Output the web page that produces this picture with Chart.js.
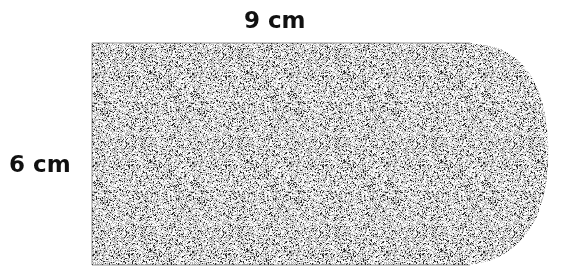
<!DOCTYPE html>
<html>
<head>
<meta charset="utf-8">
<script src="https://cdn.jsdelivr.net/npm/chart.js@4.4.1/dist/chart.umd.min.js"></script>
<style>
  html, body { margin: 0; padding: 0; background: #fff; }
  #wrap { width: 563px; height: 271px; position: relative; }
</style>
</head>
<body>
<div id="wrap"><canvas id="shapeChart"></canvas></div>
<script>
// figure outline, in cm (rectangle 9 x 6 with a rounded cap on the right)
const rectX = [9, 0, 0, 9];
const rectY = [0, 0, 6, 6];
const capX = [9, 9.71, 10.24, 10.62, 10.81, 10.86, 10.79, 10.57, 10.14, 9.57, 9];
const capY = [6, 5.84, 5.43, 4.73, 3.86, 3.0, 2.08, 1.27, 0.59, 0.16, 0];

// dimension labels
const labelText = ['9 cm', '6 cm'];
const labelX = [4.35, -1.24];
const labelY = [6.57, 2.68];

function stipple() {
  const c = document.createElement('canvas');
  c.width = 97; c.height = 89;
  const g = c.getContext('2d');
  const img = g.createImageData(c.width, c.height);
  for (let j = 0; j < c.height; j++) {
    for (let i = 0; i < c.width; i++) {
      let h = Math.sin(i * 12.9898 + j * 78.233) * 43758.5453;
      h = h - Math.floor(h);
      let v = 250;
      if (h < 0.12) v = 40;
      else if (h < 0.44) v = 175;
      else if (h < 0.59) v = 212;
      const k = (j * c.width + i) * 4;
      img.data[k] = img.data[k + 1] = img.data[k + 2] = v;
      img.data[k + 3] = 255;
    }
  }
  g.putImageData(img, 0, 0);
  return g.createPattern(c, 'repeat');
}

const textPlugin = {
  id: 'dimLabels',
  afterDatasetsDraw(chart) {
    const ctx = chart.ctx;
    const xs = chart.scales.x, ys = chart.scales.y;
    ctx.save();
    ctx.fillStyle = '#111';
    ctx.font = 'bold 23px "DejaVu Sans", Verdana, sans-serif';
    ctx.textAlign = 'center';
    ctx.textBaseline = 'middle';
    labelText.forEach((t, i) => {
      ctx.fillText(t, xs.getPixelForValue(labelX[i]), ys.getPixelForValue(labelY[i]));
    });
    ctx.restore();
  }
};

const fillPattern = stipple();
const ctx = document.getElementById('shapeChart').getContext('2d');

new Chart(ctx, {
  type: 'scatter',
  data: {
    datasets: [{
      data: rectX.map((x, i) => ({ x: x, y: rectY[i] })),
      showLine: true,
      fill: 'shape',
      tension: 0,
      backgroundColor: fillPattern,
      borderColor: 'rgba(70,70,70,0.55)',
      borderWidth: 1,
      pointRadius: 0
    }, {
      data: capX.map((x, i) => ({ x: x, y: capY[i] })),
      showLine: true,
      fill: 'shape',
      tension: 0.3,
      backgroundColor: fillPattern,
      borderColor: 'rgba(0,0,0,0)',
      borderWidth: 0,
      pointRadius: 0
    }]
  },
  options: {
    responsive: true,
    maintainAspectRatio: false,
    animation: false,
    layout: { padding: 0 },
    scales: {
      x: { display: false, min: -2.19, max: 11.21 },
      y: { display: false, min: -0.162, max: 7.162 }
    },
    plugins: {
      legend: { display: false },
      tooltip: { enabled: false }
    }
  },
  plugins: [textPlugin]
});
</script>
</body>
</html>
